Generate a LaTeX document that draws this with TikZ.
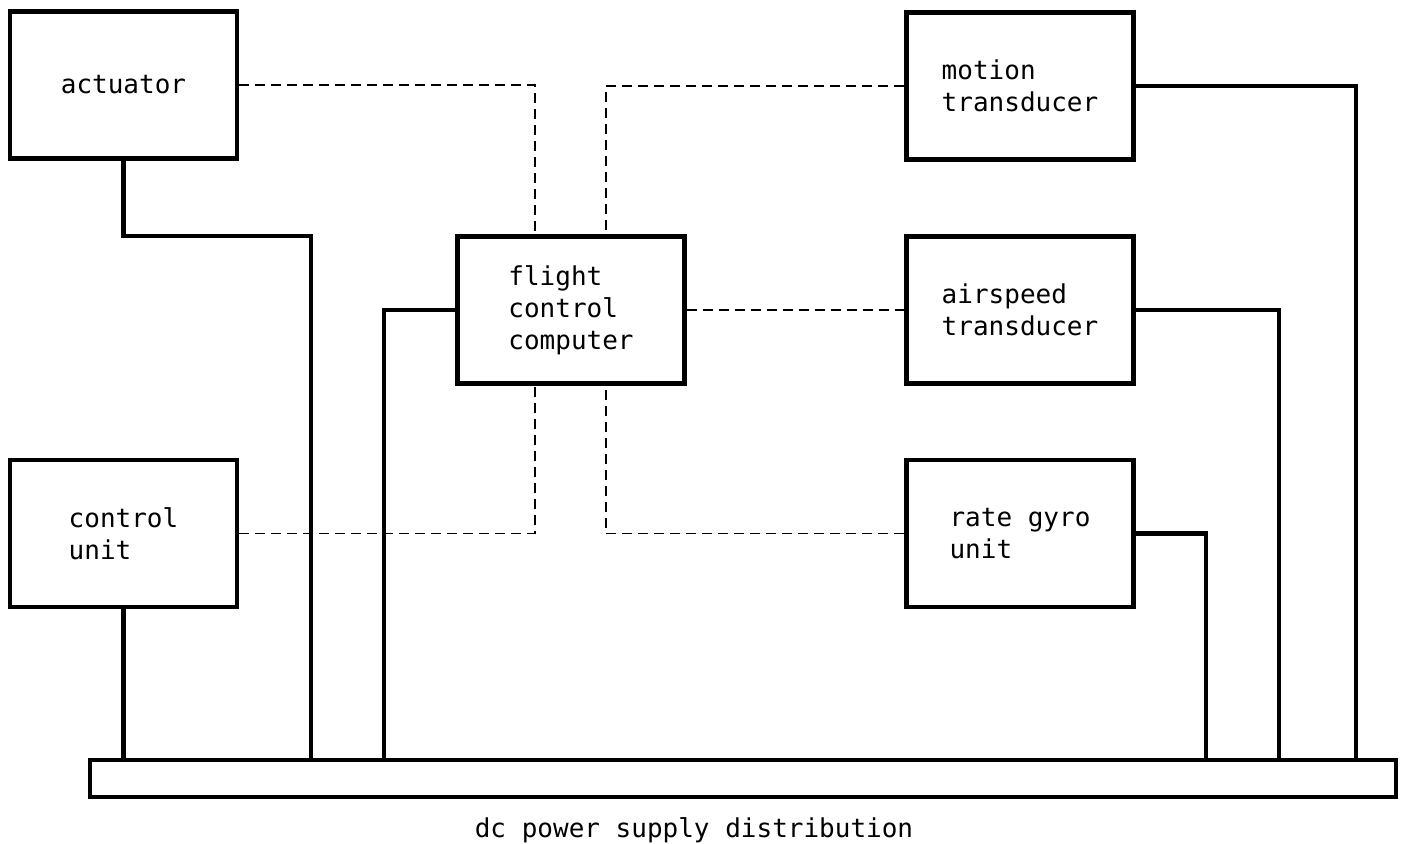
\documentclass[tikz,border=0pt]{standalone}
\usepackage{fontspec}
\newfontfamily\typewriter{DejaVu Sans Mono}
\usetikzlibrary{positioning,calc}
\tikzset{
  unit/.style={draw,line width=2.6pt,minimum width=4.54cm,minimum height=2.94cm,
    align=left,font=\typewriter\fontsize{14.8}{18.2}\selectfont},
  bus/.style={draw,line width=2.6pt,minimum width=26.12cm,minimum height=0.74cm},
  power/.style={line width=2.6pt},
  signal/.style={line width=1.1pt,dash pattern=on 0.2cm off 0.12cm}
}
\begin{document}
\begin{tikzpicture}[x=0.02cm,y=-0.02cm]
  \useasboundingbox (0,0) rectangle (1402,843);
  % units
  \node[unit] (actuator) at (123.5,85) {actuator};
  \node[unit] (control) at (123.5,533.5) {control\\unit};
  \node[unit] (fcc) at (571,310) {flight\\control\\computer};
  \node[unit] (motion) at (1020,86) {motion\\transducer};
  \node[unit] (airspeed) at (1020,310) {airspeed\\transducer};
  \node[unit] (gyro) at (1020,533.5) {rate gyro\\unit};
  % supply rail
  \node[bus] (bar) at (743,778.5) {};
  \node[font=\typewriter\fontsize{14.8}{18.2}\selectfont] (caption) at (694,830) {dc power supply distribution};
  % taps on the rail
  \coordinate (actbend) at (311,236);
  \coordinate (fcctap) at (384,0);
  \coordinate (gyrotap) at (1206,0);
  \coordinate (airtap) at (1279,0);
  \coordinate (motiontap) at (1356,0);
  % power lines
  \draw[power] (actuator.south) |- (actbend) -- (actbend |- bar.north);
  \draw[power] (control.south) -- (control.south |- bar.north);
  \draw[power] (fcc.west) -| (fcctap |- bar.north);
  \draw[power] (gyro.east) -| (gyrotap |- bar.north);
  \draw[power] (airspeed.east) -| (airtap |- bar.north);
  \draw[power] (motion.east) -| (motiontap |- bar.north);
  % signal lines
  \draw[signal] (actuator.east) -| ($(fcc.north)+(-36,0)$);
  \draw[signal] (motion.west) -| ($(fcc.north)+(35,0)$);
  \draw[signal] (fcc.east) -- (airspeed.west);
  \draw[signal] (control.east) -| ($(fcc.south)+(-36,0)$);
  \draw[signal] (gyro.west) -| ($(fcc.south)+(35,0)$);
\end{tikzpicture}
\end{document}
